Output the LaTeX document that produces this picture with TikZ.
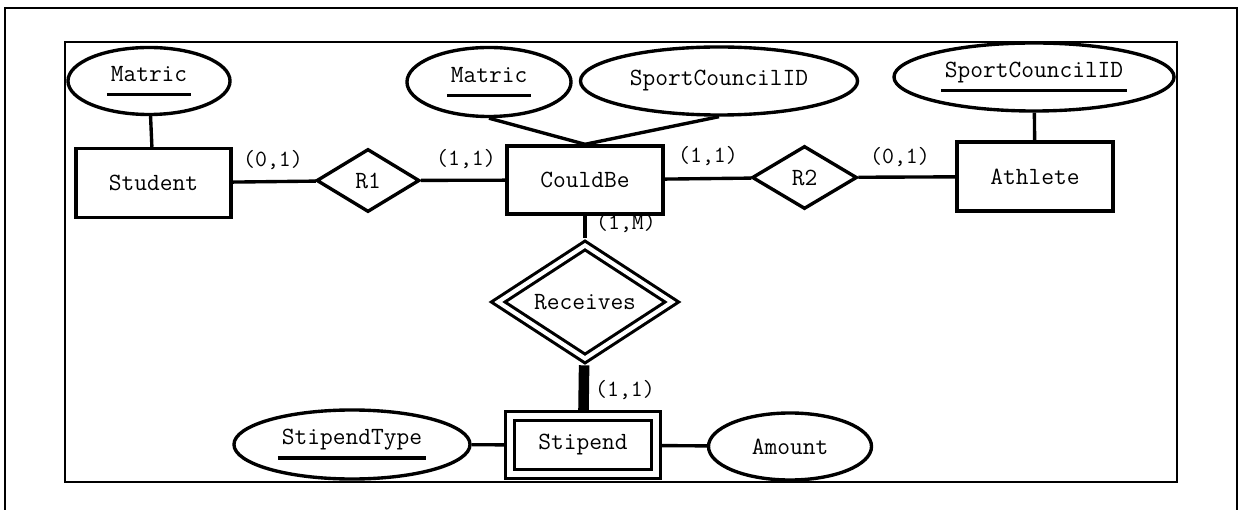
\documentclass[tikz,border=0pt]{standalone}
\usepackage{fontspec}
\usetikzlibrary{shapes.geometric}
\newcommand{\erfont}{\fontsize{17.6}{20}\selectfont\ttfamily}
\newcommand{\cardfont}{\fontsize{16.5}{19}\selectfont\ttfamily}
\newcommand{\keyattr}[1]{\vtop{\hbox{\kern2.8pt\vphantom{M}\smash{#1}\kern2.8pt}\kern8.5pt\hrule height 2.2pt}}
\tikzset{
	ent/.style={draw, rectangle, line width=2.4pt, inner sep=0pt, font=\erfont},
	weakent/.style={ent, double, double distance=4pt, line width=2pt, outer sep=4pt},
	attr/.style={draw, ellipse, line width=2.4pt, inner sep=0pt, font=\erfont},
	rel/.style={draw, diamond, line width=2.4pt, inner sep=0pt, font=\erfont},
	idrel/.style={rel, double, double distance=3pt, line width=2.2pt, outer sep=3.7pt},
	card/.style={inner sep=0pt, font=\cardfont},
	link/.style={line width=2.4pt},
	idlink/.style={line width=7.5pt},
	frame/.style={line width=1.5pt}
}

\begin{document}
\begin{tikzpicture}[x=0.025cm, y=-0.025cm]
			%%%%% START %%%%%
			\useasboundingbox (0, 0) rectangle (1240, 510);
			
			\draw[frame] (5, 515) -- (5, 8) -- (1237, 8) -- (1237, 515);
			\draw[frame] (65, 42) rectangle (1177, 482);
			
			\node[attr, minimum width=4.05cm, minimum height=1.675cm] (matS) at (149, 81) {\keyattr{Matric}};
			\node[ent, minimum width=3.875cm, minimum height=1.725cm] (stu) at (153.5, 183) {Student};
			\node[rel, minimum width=2.575cm, minimum height=1.575cm] (rOne) at (368, 180.5) {R1};
			
			\node[attr, minimum width=4.1cm, minimum height=1.725cm] (matC) at (489, 82) {\keyattr{Matric}};
			\node[attr, minimum width=6.925cm, minimum height=1.7cm] (sportC) at (719, 81) {SportCouncilID};
			\node[ent, minimum width=3.9cm, minimum height=1.7cm] (cb) at (585, 180) {CouldBe};
			
			\node[rel, minimum width=2.625cm, minimum height=1.575cm] (rTwo) at (804.5, 177.5) {R2};
			\node[attr, minimum width=7cm, minimum height=1.7cm] (sportA) at (1034, 77) {\keyattr{SportCouncilID}};
			\node[ent, minimum width=3.9cm, minimum height=1.725cm] (ath) at (1035, 176.5) {Athlete};
			
			\node[idrel, minimum width=4.45cm, minimum height=2.55cm] (rcv) at (585, 302) {Receives};
			\node[weakent, minimum width=3.65cm, minimum height=1.45cm] (stp) at (583, 445) {Stipend};
			\node[attr, minimum width=5.9cm, minimum height=1.725cm] (sType) at (352, 444.5) {\keyattr{StipendType}};
			\node[attr, minimum width=4.075cm, minimum height=1.675cm] (amt) at (790, 446.5) {Amount};
			
			\node[card] (cStu) at (273, 160) {(0,1)};
			\node[card] (cCbL) at (466, 159) {(1,1)};
			\node[card] (cCbR) at (708, 156) {(1,1)};
			\node[card] (cAth) at (900, 157) {(0,1)};
			\node[card] (cCbD) at (626, 223) {(1,M)};
			\node[card] (cStp) at (625, 390) {(1,1)};
			
			\draw[link] (matS) -- (stu);
			\draw[link] (stu) -- (rOne);
			\draw[link] (rOne) -- (cb);
			\draw[link] (matC.south) -- (cb.north);
			\draw[link] (sportC.south) -- (cb.north);
			\draw[link] (cb) -- (rTwo);
			\draw[link] (rTwo) -- (ath);
			\draw[link] (sportA) -- (ath);
			\draw[link] (cb) -- (rcv);
			\draw[idlink] (rcv) -- (stp);
			\draw[link] (sType) -- (stp);
			\draw[link] (stp) -- (amt);
			
			%%%%% END %%%%%
\end{tikzpicture}
\end{document}
